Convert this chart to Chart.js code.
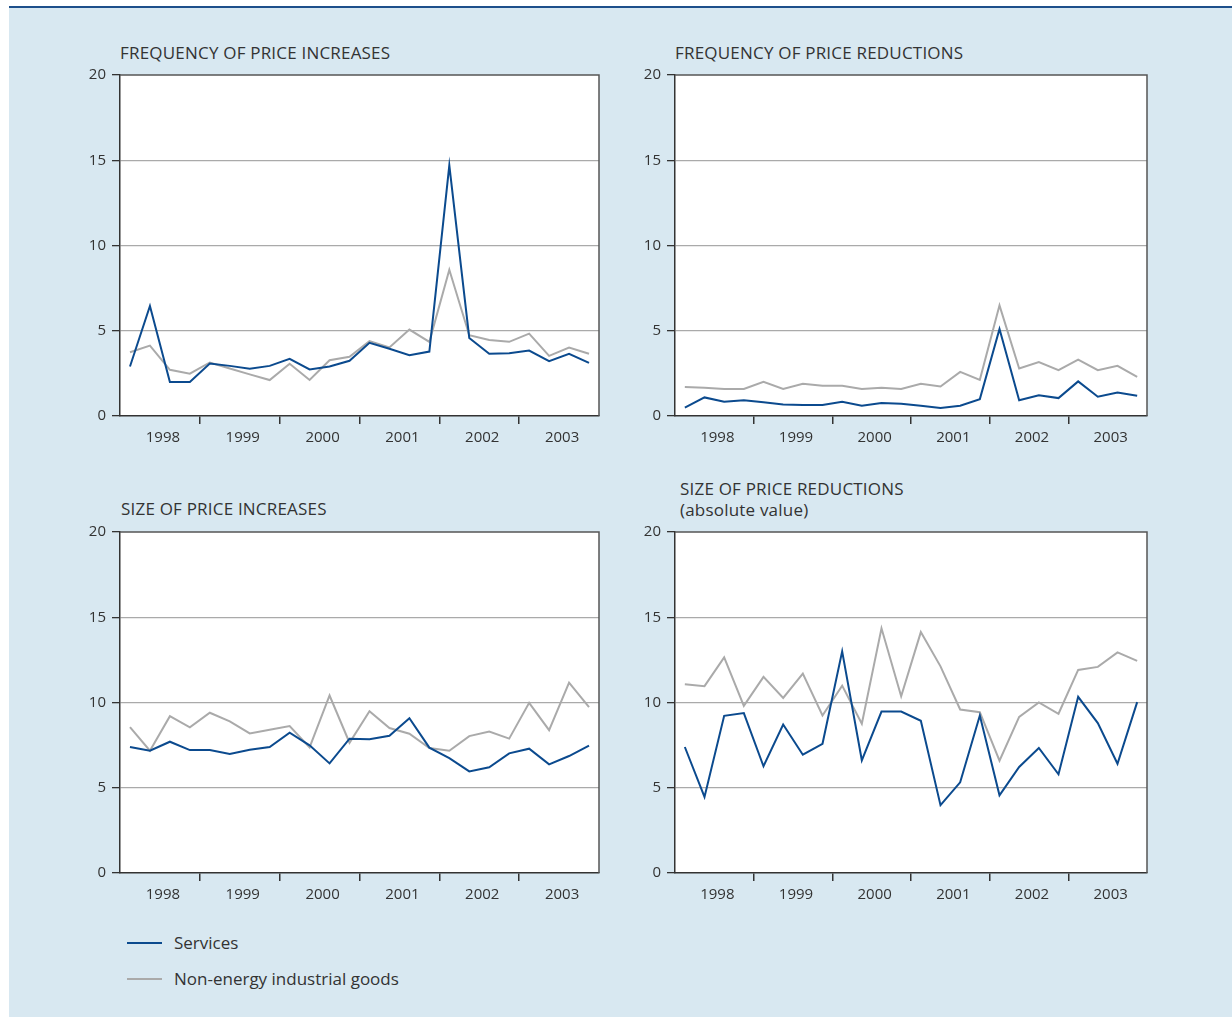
<!DOCTYPE html>
<html>
<head>
<meta charset="utf-8">
<script src="https://cdn.jsdelivr.net/npm/chart.js@4.4.1/dist/chart.umd.min.js"></script>
<style>
  body { margin: 0; background: #fff; font-family: 'Open Sans', sans-serif; }
  #page { position: relative; width: 1232px; height: 1017px; overflow: hidden; }
  #bg { position: absolute; left: 9px; top: 8px; right: 0; bottom: 0; background: #d8e8f1; }
  #topline { position: absolute; left: 9px; top: 6px; right: 0; height: 2px; background: #1d4f8b; }
  .title { position: absolute; font-size: 17px; letter-spacing: 0.2px; line-height: 21px; color: #333; white-space: nowrap; }
  canvas { position: absolute; }
  .leg { position: absolute; left: 127px; font-size: 17px; color: #333; line-height: 20px; }
  .leg span.sw { position: absolute; left: 0; top: 9px; width: 35px; height: 2px; }
  .leg span.tx { position: absolute; left: 47px; top: 0; white-space: nowrap; }
</style>
</head>
<body>
<div id="page">
  <div id="bg"></div>
  <div id="topline"></div>

  <div class="title" style="left:120px; top:42px;">FREQUENCY OF PRICE INCREASES</div>
  <div class="title" style="left:675px; top:42px;">FREQUENCY OF PRICE REDUCTIONS</div>
  <div class="title" style="left:121px; top:498px;">SIZE OF PRICE INCREASES</div>
  <div class="title" style="left:680px; top:478px;">SIZE OF PRICE REDUCTIONS<br>(absolute value)</div>

  <canvas id="c1"></canvas>
  <canvas id="c2"></canvas>
  <canvas id="c3"></canvas>
  <canvas id="c4"></canvas>

  <div class="leg" style="top:933px;"><span class="sw" style="background:#0b4a8e"></span><span class="tx">Services</span></div>
  <div class="leg" style="top:969px;"><span class="sw" style="background:#aaaaaa"></span><span class="tx">Non-energy industrial goods</span></div>
</div>

<script>
// quarterly data, 1998Q1 - 2003Q4
const years = ['1998', '1999', '2000', '2001', '2002', '2003'];
const yTicks = [0, 5, 10, 15, 20];

// Frequency of price increases
const freqIncServices = [2.9, 6.45, 2.0, 2.0, 3.08, 2.94, 2.77, 2.94, 3.35, 2.73, 2.9, 3.24,
                         4.29, 3.94, 3.57, 3.78, 14.7, 4.58, 3.65, 3.68, 3.84, 3.22, 3.65, 3.12];
const freqIncGoods    = [3.74, 4.13, 2.71, 2.48, 3.14, 2.79, 2.44, 2.11, 3.06, 2.11, 3.27, 3.47,
                         4.39, 4.02, 5.07, 4.35, 8.58, 4.74, 4.46, 4.35, 4.83, 3.53, 4.02, 3.65];

// Frequency of price reductions
const freqRedServices = [0.49, 1.09, 0.84, 0.92, 0.8, 0.68, 0.64, 0.64, 0.84, 0.6, 0.76, 0.72,
                         0.6, 0.47, 0.6, 0.99, 5.1, 0.92, 1.21, 1.05, 2.03, 1.13, 1.38, 1.19];
const freqRedGoods    = [1.7, 1.66, 1.58, 1.58, 2.01, 1.58, 1.89, 1.77, 1.77, 1.58, 1.66, 1.58,
                         1.89, 1.73, 2.59, 2.12, 6.49, 2.79, 3.16, 2.69, 3.31, 2.69, 2.94, 2.3];

// Size of price increases
const sizeIncServices = [7.39, 7.17, 7.7, 7.21, 7.21, 6.98, 7.23, 7.39, 8.23, 7.49, 6.43, 7.88,
                         7.84, 8.05, 9.08, 7.35, 6.74, 5.96, 6.2, 7.02, 7.29, 6.37, 6.86, 7.47];
const sizeIncGoods    = [8.56, 7.17, 9.2, 8.54, 9.4, 8.89, 8.19, 8.4, 8.62, 7.37, 10.41, 7.64,
                         9.49, 8.5, 8.17, 7.33, 7.17, 8.03, 8.3, 7.88, 9.98, 8.38, 11.17, 9.73];

// Size of price reductions (absolute value)
const sizeRedServices = [7.39, 4.46, 9.22, 9.38, 6.26, 8.71, 6.94, 7.58, 13.0, 6.61, 9.47, 9.47,
                         8.93, 3.98, 5.32, 9.24, 4.56, 6.22, 7.33, 5.79, 10.33, 8.79, 6.41, 10.02];
const sizeRedGoods    = [11.07, 10.96, 12.65, 9.8, 11.5, 10.27, 11.7, 9.24, 10.99, 8.75, 14.35, 10.37,
                         14.13, 12.12, 9.59, 9.43, 6.59, 9.16, 10.0, 9.34, 11.91, 12.09, 12.94, 12.44];

const SERVICES_COLOR = '#0b4a8e';
const GOODS_COLOR = '#aaaaaa';
const AXIS_COLOR = '#333333';
const FONT = { family: "'Open Sans', sans-serif", size: 15 };

const Y_AXIS_W = 50, X_AXIS_H = 40, PAD_TOP = 14, PAD_RIGHT = 12;

// fond blanc + cadre du graphique
const framePlugin = {
    id: 'frame',
    beforeDraw(chart) {
        const a = chart.chartArea, ctx = chart.ctx;
        ctx.save();
        ctx.fillStyle = '#ffffff';
        ctx.fillRect(a.left, a.top, a.right - a.left, a.bottom - a.top);
        ctx.restore();
    },
    afterDraw(chart) {
        const a = chart.chartArea, ctx = chart.ctx;
        ctx.save();
        ctx.strokeStyle = '#555555';
        ctx.lineWidth = 1.5;
        ctx.beginPath();
        ctx.moveTo(a.left, a.top);
        ctx.lineTo(a.right, a.top);
        ctx.lineTo(a.right, a.bottom);
        ctx.stroke();
        ctx.restore();
    }
};

function toPoints(values) {
    return values.map((v, i) => ({ x: i + 0.5, y: v }));
}

function makePanel(id, left, right, top, bottom, services, goods) {
    const canvas = document.getElementById(id);
    const w = Y_AXIS_W + (right - left) + PAD_RIGHT;
    const h = PAD_TOP + (bottom - top) + X_AXIS_H;
    canvas.style.left = (left - Y_AXIS_W) + 'px';
    canvas.style.top = (top - PAD_TOP) + 'px';
    canvas.style.width = w + 'px';
    canvas.style.height = h + 'px';
    canvas.width = w;
    canvas.height = h;

    return new Chart(canvas.getContext('2d'), {
        type: 'line',
        data: {
            datasets: [
                { label: 'Services', data: toPoints(services), borderColor: SERVICES_COLOR, borderWidth: 2 },
                { label: 'Non-energy industrial goods', data: toPoints(goods), borderColor: GOODS_COLOR, borderWidth: 2 }
            ]
        },
        options: {
            responsive: false,
            animation: false,
            events: [],
            layout: { padding: { top: PAD_TOP, right: PAD_RIGHT, left: 0, bottom: 0 } },
            elements: { point: { radius: 0 }, line: { tension: 0, borderJoinStyle: 'miter' } },
            plugins: { legend: { display: false }, tooltip: { enabled: false } },
            scales: {
                x: {
                    type: 'linear',
                    min: 0,
                    max: 24,
                    afterFit: s => { s.height = X_AXIS_H; },
                    afterBuildTicks: s => {
                        s.ticks = [];
                        for (let v = 0; v <= 24; v += 2) s.ticks.push({ value: v });
                    },
                    ticks: {
                        autoSkip: false,
                        maxRotation: 0,
                        padding: 5,
                        labelOffset: 3,
                        color: AXIS_COLOR,
                        font: FONT,
                        callback: v => (v % 4 === 2 ? years[(v - 2) / 4] : '')
                    },
                    grid: {
                        drawOnChartArea: false,
                        drawTicks: true,
                        tickLength: 8,
                        lineWidth: 1.5,
                        color: c => (c.tick && c.tick.value % 4 === 0 && c.tick.value > 0 && c.tick.value < 24) ? AXIS_COLOR : 'rgba(0,0,0,0)'
                    },
                    border: { display: true, color: AXIS_COLOR, width: 1.5 }
                },
                y: {
                    min: 0,
                    max: 20,
                    afterFit: s => { s.width = Y_AXIS_W; },
                    afterBuildTicks: s => { s.ticks = yTicks.map(v => ({ value: v })); },
                    ticks: { padding: 6, color: AXIS_COLOR, font: FONT },
                    grid: {
                        drawTicks: true,
                        tickLength: 8,
                        lineWidth: 1.3,
                        color: c => (c.tick && (c.tick.value === 0 || c.tick.value === 20)) ? 'rgba(0,0,0,0)' : '#aaaaaa',
                        tickColor: AXIS_COLOR
                    },
                    border: { display: true, color: AXIS_COLOR, width: 1.5 }
                }
            }
        },
        plugins: [framePlugin]
    });
}

makePanel('c1', 120, 599, 74, 416, freqIncServices, freqIncGoods);
makePanel('c2', 675, 1147, 74, 416, freqRedServices, freqRedGoods);
makePanel('c3', 120, 599, 531, 873, sizeIncServices, sizeIncGoods);
makePanel('c4', 675, 1147, 531, 873, sizeRedServices, sizeRedGoods);
</script>
</body>
</html>
